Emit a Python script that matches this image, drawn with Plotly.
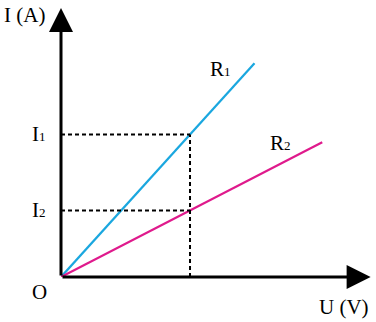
import plotly.graph_objects as go

# Data
U_ref = 4.0           # voltage where the dashed guides are drawn
slope_R1 = 0.75       # I/U for R1
slope_R2 = 0.35       # I/U for R2
U_end_R1 = 6.0
U_end_R2 = 8.1
SUB = "<span style='font-size:13px'>{}</span>"
labels_I = ["I" + SUB.format("1"), "I" + SUB.format("2")]
series_names = ["R" + SUB.format("1"), "R" + SUB.format("2")]
x_axis_max = 9.6
y_axis_max = 5.66

I1 = slope_R1 * U_ref
I2 = slope_R2 * U_ref

W, H = 376, 322
ml, mb = 61, 45
x_range = [0, 9.767]
y_range = [0, 5.83]

FONT = "Liberation Serif, Times New Roman, serif"
BLUE = "#1aa7df"
PINK = "#df1a8c"

fig = go.Figure()

fig.add_trace(go.Scatter(x=[0, U_end_R1], y=[0, slope_R1 * U_end_R1], mode="lines",
                         line=dict(color=BLUE, width=2.2), hoverinfo="skip"))
fig.add_trace(go.Scatter(x=[0, U_end_R2], y=[0, slope_R2 * U_end_R2], mode="lines",
                         line=dict(color=PINK, width=2.2), hoverinfo="skip"))

# dashed guides
for yv in (I1, I2):
    fig.add_trace(go.Scatter(x=[0, U_ref], y=[yv, yv], mode="lines",
                             line=dict(color="black", width=2, dash="4px,3px"), hoverinfo="skip"))
fig.add_trace(go.Scatter(x=[U_ref, U_ref], y=[0, I1], mode="lines",
                         line=dict(color="black", width=2, dash="4px,3px"), hoverinfo="skip"))

ann = []
# axes with arrowheads
ann.append(dict(x=x_axis_max, y=0, ax=0, ay=0, xref="x", yref="y", axref="x", ayref="y",
                text="", showarrow=True, arrowhead=2, arrowsize=1.6, arrowwidth=3,
                arrowcolor="black", standoff=0))
ann.append(dict(x=0, y=y_axis_max, ax=0, ay=0, xref="x", yref="y", axref="x", ayref="y",
                text="", showarrow=True, arrowhead=2, arrowsize=1.6, arrowwidth=3,
                arrowcolor="black", standoff=0))

fs = 21
def txt(x, y, t, xanchor="right", yanchor="middle", xshift=0, yshift=0):
    ann.append(dict(x=x, y=y, xref="x", yref="y", text=t, showarrow=False,
                    xanchor=xanchor, yanchor=yanchor, xshift=xshift, yshift=yshift,
                    font=dict(family=FONT, size=fs, color="black")))

txt(0, y_axis_max, "I (A)", xshift=-14, yshift=-7)
txt(0, I1, labels_I[0], xshift=-13, yshift=0)
txt(0, I2, labels_I[1], xshift=-13, yshift=0)
txt(0, 0, "O", xshift=-12, yshift=-15)
txt(x_axis_max, 0, "U (V)", xshift=0, yshift=-30)
txt(U_end_R1, slope_R1 * U_end_R1, series_names[0], xshift=-22, yshift=-6)
txt(U_end_R2, slope_R2 * U_end_R2, series_names[1], xshift=-29, yshift=-1)

fig.update_layout(
    width=W, height=H,
    margin=dict(l=ml, r=0, t=0, b=mb),
    paper_bgcolor="white", plot_bgcolor="white",
    showlegend=False,
    xaxis=dict(range=x_range, visible=False, fixedrange=True),
    yaxis=dict(range=y_range, visible=False, fixedrange=True),
    annotations=ann,
)

fig.write_html("out.html", config={"displayModeBar": False})
